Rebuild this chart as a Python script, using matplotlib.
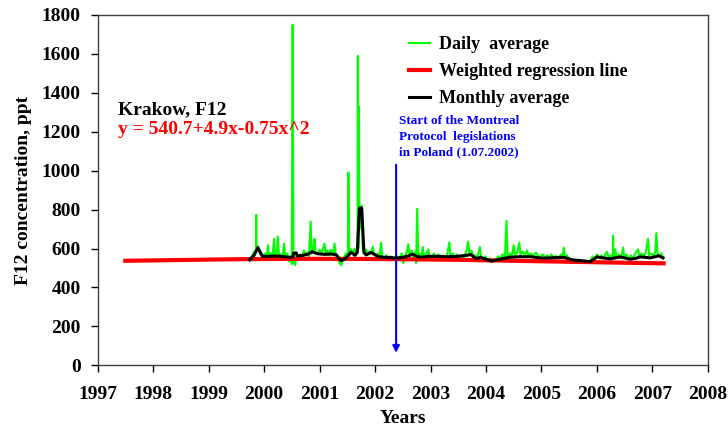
import numpy as np
import matplotlib
matplotlib.use('Agg')
import matplotlib.pyplot as plt

#Daily average, nan = gap in data
daily_years = [1999.74, 1999.78, 1999.82, 1999.855, 1999.86, 1999.865, 1999.89, 1999.92, 1999.95, 1999.98,
               2000.02, 2000.05, 2000.07, 2000.09, 2000.12, 2000.15, 2000.18, 2000.20, 2000.23, 2000.25,
               2000.27, 2000.30, 2000.33, 2000.36, 2000.38, 2000.42, 2000.45, 2000.48, 2000.50, 2000.515,
               2000.53, 2000.56, 2000.59, 2000.62, 2000.65, 2000.68, 2000.72, 2000.75, 2000.78, 2000.81,
               2000.84, 2000.86, 2000.89, 2000.91, 2000.93, 2000.96, 2001.00, 2001.03, 2001.06, 2001.09,
               2001.11, 2001.14, 2001.17, 2001.20, 2001.24, 2001.27, 2001.29, 2001.33, 2001.36, 2001.39,
               2001.42, 2001.45, 2001.48, 2001.51, 2001.52, 2001.535, 2001.57, 2001.60, 2001.63, 2001.66,
               2001.685, 2001.69, 2001.70, 2001.71, 2001.72, 2001.74, 2001.76, 2001.78, 2001.81, 2001.84,
               2001.87, 2001.90, 2001.93, 2001.96, 2001.98, 2002.02, 2002.05, 2002.08, 2002.11, 2002.13,
               2002.17, 2002.20, 2002.24, 2002.28, 2002.32, 2002.36, 2002.40, 2002.44, 2002.48, 2002.51,
               2002.54, 2002.57, 2002.60, 2002.62, 2002.66, 2002.69, 2002.72, 2002.74, 2002.76, 2002.78,
               2002.81, 2002.84, 2002.86, 2002.88, 2002.92, 2002.96, 2002.98, 2003.02, 2003.06, 2003.10,
               2003.14, 2003.18, 2003.22, 2003.26, 2003.30, 2003.34, 2003.36, 2003.40, 2003.44, 2003.48,
               2003.52, 2003.56, 2003.60, 2003.64, 2003.68, 2003.70, 2003.74, 2003.77, 2003.80, 2003.84,
               2003.89, 2003.91, 2003.95, 2003.99, 2004.03, 2004.07, 2004.10, 2004.14, 2004.18, 2004.22,
               2004.26, 2004.30, 2004.34, 2004.37, 2004.39, 2004.43, 2004.46, 2004.50, 2004.52, 2004.56,
               2004.60, 2004.62, 2004.66, 2004.70, 2004.74, 2004.77, 2004.81, 2004.85, 2004.90, 2004.95,
               2005.00, 2005.03, 2005.06, 2005.10, 2005.14, 2005.18, 2005.22, 2005.26, 2005.30, 2005.35,
               2005.38, 2005.40, 2005.42, 2005.46, 2005.50, 2005.70, 2005.88, 2005.92, 2005.96, 2006.00,
               2006.04, 2006.08, 2006.12, 2006.15, 2006.18, 2006.21, 2006.25, 2006.285, 2006.29, 2006.30,
               2006.33, 2006.35, 2006.39, 2006.43, 2006.47, 2006.49, 2006.53, 2006.57, 2006.61, 2006.65,
               2006.69, 2006.74, 2006.76, 2006.80, 2006.84, 2006.88, 2006.92, 2006.94, 2006.98, 2007.02,
               2007.05, 2007.07, 2007.09, 2007.13, 2007.16, 2007.19]
daily_values = [540, 560, 585, 590, 773, 600, 610, 580, 570, 560,
                575, 550, 617, 560, 575, 545, 650, 560, 580, 662,
                555, 570, 540, 625, 560, 575, 535, 560, 520, 1750,
                530, 515, 575, 545, 570, 550, 590, 565, 580, 560,
                739, 575, 600, 649, 580, 570, 595, 575, 600, 625,
                570, 590, 565, 595, 570, 625, 575, 550, 525, 515,
                545, 560, 575, 560, 990, 575, 595, 570, 600, 575,
                620, 1590, 600, 1330, 700, 750, 820, 600, 580, 595,
                570, 585, 575, 610, 570, 560, 575, 550, 630, 560,
                545, 565, 545, 560, 550, 540, 560, 545, 575, 525,
                560, 580, 622, 570, 590, 555, 580, 525, 804, 555,
                575, 560, 608, 560, 570, 596, 560, 550, 575, 555,
                570, 550, 565, 545, 570, 632, 560, 575, 555, 570,
                550, 565, 555, 580, 636, 570, 590, 545, 565, 550,
                608, 555, 545, 560, 535, 550, 530, 545, 540, 560,
                545, 570, 555, 742, 560, 575, 555, 617, 565, 580,
                630, 570, 585, 560, 591, 560, 575, 560, 580, 555,
                565, 570, 550, 565, 555, 570, 550, 562, 548, 570,
                560, 605, 560, 565, 545, np.nan, 535, 560, 545, 570,
                550, 565, 550, 570, 583, 555, 565, 550, 667, 560,
                596, 555, 570, 550, 605, 560, 570, 545, 565, 550,
                575, 596, 560, 575, 560, 580, 650, 565, 575, 560,
                585, 679, 575, 560, 575, 555]

#Monthly average
monthly_years = [1999.74, 1999.82, 1999.89, 1999.95, 1999.98, 2000.1, 2000.2, 2000.3, 2000.45, 2000.52,
                 2000.53, 2000.58, 2000.6, 2000.7, 2000.8, 2000.87, 2000.94, 2001.0, 2001.1, 2001.2,
                 2001.3, 2001.35, 2001.39, 2001.45, 2001.52, 2001.57, 2001.64, 2001.68, 2001.72, 2001.76,
                 2001.80, 2001.84, 2001.93, 2002.05, 2002.15, 2002.23, 2002.38, 2002.5, 2002.6, 2002.68,
                 2002.75, 2002.83, 2002.95, 2003.13, 2003.3, 2003.5, 2003.65, 2003.73, 2003.82, 2003.9,
                 2004.0, 2004.09, 2004.2, 2004.3, 2004.42, 2004.6, 2004.8, 2005.0, 2005.1, 2005.25,
                 2005.40, 2005.55, 2005.88, 2006.00, 2006.1, 2006.24, 2006.33, 2006.42, 2006.6, 2006.7,
                 2006.78, 2006.96, 2007.05, 2007.11, 2007.19]
monthly_values = [542, 565, 605, 570, 559, 560, 562, 560, 555, 556,
                  575, 578, 562, 565, 572, 584, 575, 572, 570, 572,
                  568, 550, 538, 545, 565, 581, 565, 580, 808, 808,
                  580, 567, 580, 560, 555, 555, 551, 555, 562, 571,
                  560, 555, 560, 560, 558, 560, 565, 569, 548, 555,
                  545, 536, 541, 548, 555, 558, 558, 551, 551, 553,
                  555, 542, 533, 557, 552, 547, 552, 557, 545, 550,
                  557, 552, 558, 563, 552]

#Weighted regression line
regr_years = [1997.5, 1998.5, 1999.5, 2000.5, 2001.5, 2002.5, 2003.5, 2004.5, 2005.5, 2006.5, 2007.2]
regr_values = [537, 541, 545, 547, 547, 545, 542, 537, 532, 527, 524]

x_ticks = list(range(1997, 2009))
y_ticks = list(range(0, 1801, 200))

serif = 'Liberation Serif'
plt.rcParams['font.family'] = serif
plt.rcParams['font.weight'] = 'bold'

fig = plt.figure(figsize=(7.28, 4.28), dpi=100)
ax = fig.add_axes([0.134, 0.1465, 0.8385, 0.8185])

ax.plot(daily_years, daily_values, color='#00ff00', lw=1.5, label='Daily  average', zorder=2)
ax.plot(regr_years, regr_values, color='red', lw=3, label='Weighted regression line', zorder=3)
ax.plot(monthly_years, monthly_values, color='black', lw=2.2, label='Monthly average', zorder=4)

#Montreal protocol arrow
ax.annotate('', xy=(2002.38, 50), xytext=(2002.38, 1045),
            arrowprops=dict(arrowstyle='-|>', color='blue', lw=1.5, mutation_scale=10))
ax.text(2002.44, 1285, 'Start of the Montreal\nProtocol  legislations\nin Poland (1.07.2002)',
        color='blue', fontsize=9.5, fontweight='bold', va='top', ha='left', linespacing=1.42)

ax.text(1997.37, 1313, 'Krakow, F12', fontsize=14, fontweight='bold', va='center')
ax.text(1997.37, 1210, 'y = 540.7+4.9x-0.75x^2', fontsize=14, fontweight='bold', color='red', va='center')

ax.set_xlim(1997, 2008)
ax.set_ylim(0, 1800)
ax.set_xticks(x_ticks)
ax.set_yticks(y_ticks)
ax.tick_params(direction='out', length=5, width=1, labelsize=14, pad=7)
ax.tick_params(axis='x', pad=10)
for lbl in ax.get_xticklabels() + ax.get_yticklabels():
    lbl.set_fontweight('bold')
for sp in ax.spines.values():
    sp.set_color('#404040')
    sp.set_linewidth(1)

ax.set_xlabel('Years', fontsize=14, fontweight='bold', labelpad=5)
ax.set_ylabel('F12 concentration, ppt', fontsize=14, fontweight='bold', labelpad=7)

ax.legend(loc='upper left', bbox_to_anchor=(0.483, 0.985), frameon=False, fontsize=13,
          handlelength=1.2, handletextpad=0.5, labelspacing=0.55)

plt.savefig('out.png', dpi=100)
